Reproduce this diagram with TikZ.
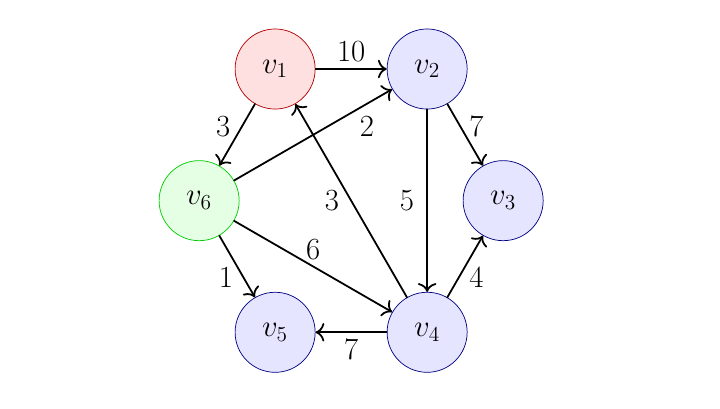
\documentclass[tikz,border=0pt]{standalone}
\usetikzlibrary{arrows.meta}

\begin{document}
\begin{tikzpicture}[font=\LARGE, line join=round, line cap=round, >={To[scale=1.3]},
		vtx/.style={circle, draw=blue!50!black, fill=blue!10, minimum size=1.58cm, inner sep=0pt},
		src/.style={vtx, draw=red!70!black, fill=red!12},
		mid/.style={vtx, draw=green!80!black, fill=green!10},
		edge/.style={->, line width=1pt}]
		\useasboundingbox (0,0) rectangle (14.21,8.07);
		\begin{scope}[shift={(6.93,4.11)}]
			% vertices on a hexagon
			\node[src] (v1) at (120:3) {$v_1$};
			\node[vtx] (v2) at (60:3) {$v_2$};
			\node[vtx] (v3) at (0:3) {$v_3$};
			\node[vtx] (v4) at (-60:3) {$v_4$};
			\node[vtx] (v5) at (-120:3) {$v_5$};
			\node[mid] (v6) at (180:3) {$v_6$};
			% weighted edges
			\draw[edge] (v1) -- node[above] {10} (v2);
			\draw[edge] (v1) -- node[left, yshift=4.5pt] {3} (v6);
			\draw[edge] (v6) -- node[pos=0.84, below=3pt] {2} (v2);
			\draw[edge] (v4) -- node[left=3pt] {3} (v1);
			\draw[edge] (v2) -- node[left=3.5pt] {5} (v4);
			\draw[edge] (v2) -- node[right, xshift=-1.5pt, yshift=4.5pt] {7} (v3);
			\draw[edge] (v4) -- node[right, xshift=-1.5pt, yshift=-6pt] {4} (v3);
			\draw[edge] (v6) -- node[above] {6} (v4);
			\draw[edge] (v6) -- node[left, xshift=1.5pt, yshift=-6pt] {1} (v5);
			\draw[edge] (v4) -- node[below] {7} (v5);
		\end{scope}
	\end{tikzpicture}
\end{document}
